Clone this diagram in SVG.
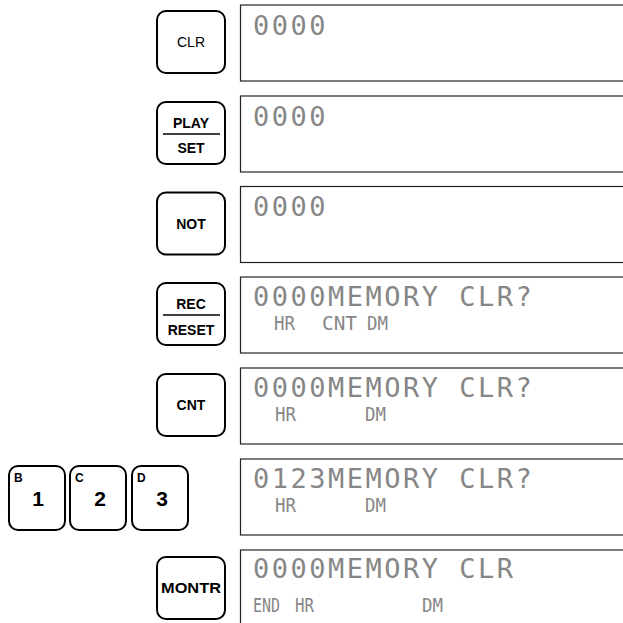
<svg xmlns="http://www.w3.org/2000/svg" width="623" height="623" viewBox="0 0 623 623">
<style>
.key{fill:#fff;stroke:#000;stroke-width:2}
.div{stroke:#000;stroke-width:1.6}
.kl{font-family:"Liberation Sans",Arial,sans-serif;font-weight:bold;font-size:14px;text-anchor:middle;fill:#000}
.kr{font-family:"Liberation Sans",Arial,sans-serif;font-size:14px;text-anchor:middle;fill:#000}
.ks{font-family:"Liberation Sans",Arial,sans-serif;font-weight:bold;font-size:12px;fill:#000}
.kd{font-family:"Liberation Sans",Arial,sans-serif;font-weight:bold;font-size:21px;text-anchor:middle;fill:#000}
.box{fill:#fff;stroke:#222;stroke-width:1.2}
.l1{font-family:"DejaVu Sans Mono","Liberation Mono",monospace;font-size:27px;letter-spacing:2.5px;fill:#868686}
.l2{font-family:"DejaVu Sans Mono","Liberation Mono",monospace;font-size:19px;fill:#868686}
</style>

<g id="row1-key-clr">
<rect class="key" x="157" y="11" width="68" height="62" rx="9"/>
<text class="kr" x="191" y="47">CLR</text>
</g>
<g id="row1-display">
<rect class="box" x="240.5" y="5" width="400" height="76"/>
<text class="l1" x="253" y="34.5">0000</text>
</g>

<g id="row2-key-playset">
<rect class="key" x="157" y="102" width="68" height="62" rx="9"/>
<line class="div" x1="163" y1="134" x2="220" y2="134"/>
<text class="kl" x="191" y="128">PLAY</text>
<text class="kl" x="191" y="153">SET</text>
</g>
<g id="row2-display">
<rect class="box" x="240.5" y="96" width="400" height="76"/>
<text class="l1" x="253" y="125.5">0000</text>
</g>

<g id="row3-key-not">
<rect class="key" x="157" y="192.5" width="68" height="62" rx="9"/>
<text class="kl" x="191" y="228.5">NOT</text>
</g>
<g id="row3-display">
<rect class="box" x="240.5" y="186.5" width="400" height="76"/>
<text class="l1" x="253" y="216">0000</text>
</g>

<g id="row4-key-recreset">
<rect class="key" x="157" y="283" width="68" height="62" rx="9"/>
<line class="div" x1="163" y1="315" x2="220" y2="315"/>
<text class="kl" x="191" y="309">REC</text>
<text class="kl" x="191" y="334.5">RESET</text>
</g>
<g id="row4-display">
<rect class="box" x="240.5" y="277" width="400" height="76"/>
<text class="l1" x="253" y="306">0000MEMORY CLR?</text>
<text class="l2" x="274" y="330" textLength="21" lengthAdjust="spacingAndGlyphs">HR</text>
<text class="l2" x="322" y="330" textLength="35" lengthAdjust="spacingAndGlyphs">CNT</text>
<text class="l2" x="367" y="330" textLength="21" lengthAdjust="spacingAndGlyphs">DM</text>
</g>

<g id="row5-key-cnt">
<rect class="key" x="157" y="374" width="68" height="62" rx="9"/>
<text class="kl" x="191" y="410">CNT</text>
</g>
<g id="row5-display">
<rect class="box" x="240.5" y="368" width="400" height="76"/>
<text class="l1" x="253" y="397">0000MEMORY CLR?</text>
<text class="l2" x="275" y="421" textLength="21" lengthAdjust="spacingAndGlyphs">HR</text>
<text class="l2" x="365" y="421" textLength="21" lengthAdjust="spacingAndGlyphs">DM</text>
</g>

<g id="row6-key-b1">
<rect class="key" x="9" y="466" width="56" height="64" rx="9"/>
<text class="ks" x="14" y="482">B</text>
<text class="kd" x="38" y="506">1</text>
</g>
<g id="row6-key-c2">
<rect class="key" x="70" y="466" width="56" height="64" rx="9"/>
<text class="ks" x="75" y="482">C</text>
<text class="kd" x="100" y="506">2</text>
</g>
<g id="row6-key-d3">
<rect class="key" x="132" y="466" width="56" height="64" rx="9"/>
<text class="ks" x="137" y="482">D</text>
<text class="kd" x="162" y="506">3</text>
</g>
<g id="row6-display">
<rect class="box" x="240.5" y="459" width="400" height="76"/>
<text class="l1" x="253" y="488">0123MEMORY CLR?</text>
<text class="l2" x="275" y="512" textLength="21" lengthAdjust="spacingAndGlyphs">HR</text>
<text class="l2" x="365" y="512" textLength="21" lengthAdjust="spacingAndGlyphs">DM</text>
</g>

<g id="row7-key-montr">
<rect class="key" x="157" y="557" width="68" height="62" rx="9"/>
<text class="kl" x="191" y="593" textLength="60" lengthAdjust="spacingAndGlyphs">MONTR</text>
</g>
<g id="row7-display">
<rect class="box" x="240.5" y="550" width="400" height="80"/>
<text class="l1" x="253" y="578">0000MEMORY CLR</text>
<text class="l2" x="253" y="612" textLength="27" lengthAdjust="spacingAndGlyphs">END</text>
<text class="l2" x="295" y="612" textLength="19" lengthAdjust="spacingAndGlyphs">HR</text>
<text class="l2" x="422" y="612" textLength="21" lengthAdjust="spacingAndGlyphs">DM</text>
</g>
</svg>
